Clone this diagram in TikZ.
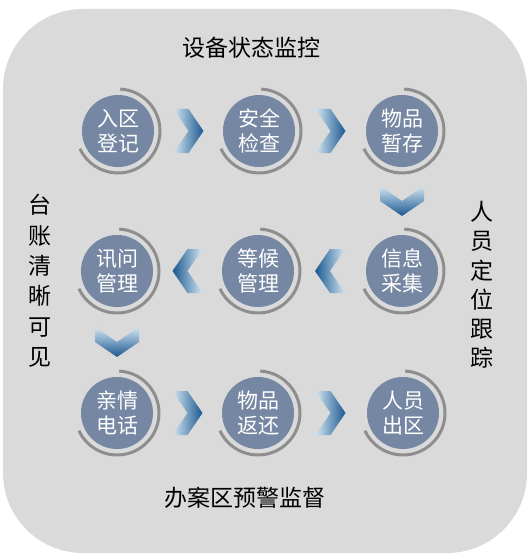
\documentclass[tikz,border=0pt]{standalone}
\usepackage{fontspec}
\newfontfamily\cjk{Noto Sans CJK SC}
\usetikzlibrary{calc, positioning}
\definecolor{panelgray}{HTML}{D9DAD9}
\definecolor{stepblue}{HTML}{7587A2}
\definecolor{ringgray}{HTML}{8E8E8E}
\definecolor{chevlight}{HTML}{D3E5F1}
\definecolor{chevdark}{HTML}{1A5890}
\tikzset{
  chev/.pic={\path[pic actions] (-15,22) -- (0,22) -- (15,0) -- (0,-22) -- (-15,-22) -- (0,0) -- cycle;}
}

\begin{document}
\begin{tikzpicture}[x=1pt, y=-1pt]
  \useasboundingbox (0,0) rectangle (530,559);
  \fill[panelgray, rounded corners=80pt] (3,9) rectangle (527,553);

  \begin{scope}[every node/.style={circle, fill=stepblue, minimum size=72pt, inner sep=0pt, text=white, align=center, font=\cjk\fontsize{21}{25}\selectfont}]
    \node (s1) at (118,131) {入区\\登记};
    \node (s2) at (259,131) {安全\\检查};
    \node (s3) at (402,131) {物品\\暂存};
    \node (s4) at (402,271) {信息\\采集};
    \node (s5) at (258,271) {等候\\管理};
    \node (s6) at (117,271) {讯问\\管理};
    \node (s7) at (117,413) {亲情\\电话};
    \node (s8) at (258,413) {物品\\返还};
    \node (s9) at (403,413) {人员\\出区};
  \end{scope}

  \begin{scope}[draw=ringgray, line width=3pt]
    \foreach \s in {s1,s2,s3,s4,s5,s6,s7,s8,s9}
      \draw ([shift={(-87:42)}]\s.center) arc[start angle=-87, end angle=155, radius=42];
  \end{scope}

  \begin{scope}
    \pic[left color=chevlight, right color=chevdark] at ($(s1)!0.5!(s2)$) {chev};
    \pic[left color=chevlight, right color=chevdark] at ($(s2)!0.5!(s3)$) {chev};
    \pic[rotate=-90, top color=chevlight, bottom color=chevdark] at ($(s3)!0.5!(s4)$) {chev};
    \pic[rotate=180, left color=chevdark, right color=chevlight] at ($(s4)!0.5!(s5)$) {chev};
    \pic[rotate=180, left color=chevdark, right color=chevlight] at ($(s5)!0.5!(s6)$) {chev};
    \pic[rotate=-90, top color=chevlight, bottom color=chevdark] at ($(s6)!0.5!(s7)$) {chev};
    \pic[left color=chevlight, right color=chevdark] at ($(s7)!0.5!(s8)$) {chev};
    \pic[left color=chevlight, right color=chevdark] at ($(s8)!0.5!(s9)$) {chev};
  \end{scope}

  \node[font=\cjk\fontsize{23}{23}\selectfont] (top) at (251,48) {设备状态监控};
  \node[font=\cjk\fontsize{23}{23}\selectfont] (bottom) at (245,498) {办案区预警监督};
  \node[align=center, font=\cjk\fontsize{23}{30.4}\selectfont] (left) at (40,281) {台\\账\\清\\晰\\可\\见};
  \node[align=center, font=\cjk\fontsize{23}{29.2}\selectfont] (right) at (482,285) {人\\员\\定\\位\\跟\\踪};
\end{tikzpicture}
\end{document}
